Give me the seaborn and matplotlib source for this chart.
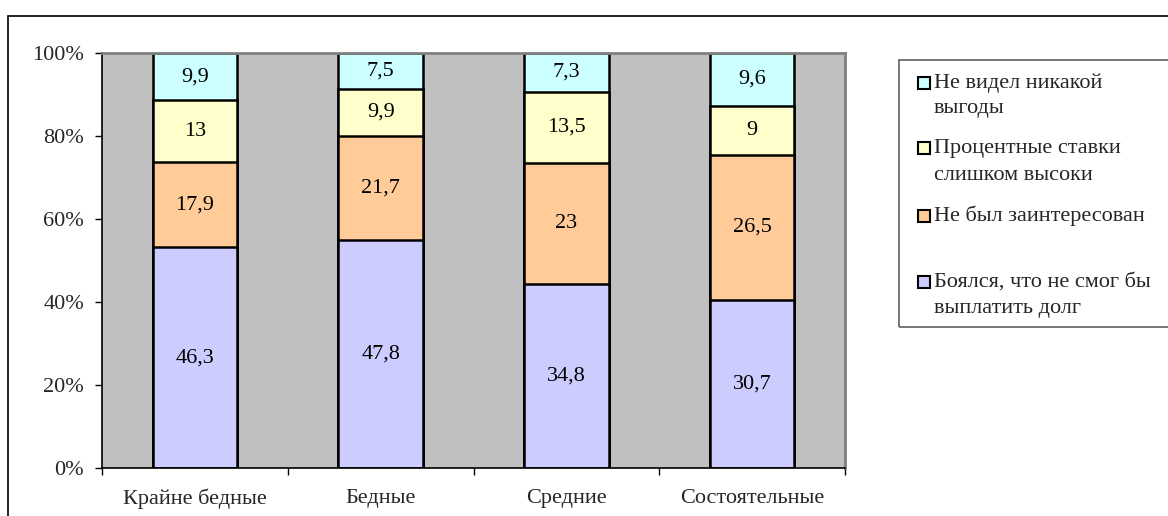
import numpy as np
import pandas as pd
import matplotlib
matplotlib.use("Agg")
import matplotlib.pyplot as plt
from matplotlib.patches import Rectangle
from matplotlib.ticker import FixedLocator
import seaborn as sns

categories = ["Крайне бедные", "Бедные", "Средние", "Состоятельные"]
series_names = ["Боялся, что не смог бы\nвыплатить долг", "Не был заинтересован",
                "Процентные ставки\nслишком высоки", "Не видел никакой\nвыгоды"]
feared = [46.3, 47.8, 34.8, 30.7]
not_interested = [17.9, 21.7, 23.0, 26.5]
rates_high = [13.0, 9.9, 13.5, 9.0]
no_benefit = [9.9, 7.5, 7.3, 9.6]
value_labels = [["46,3", "47,8", "34,8", "30,7"],
                ["17,9", "21,7", "23", "26,5"],
                ["13", "9,9", "13,5", "9"],
                ["9,9", "7,5", "7,3", "9,6"]]
colors = ["#CCCCFF", "#FFCC99", "#FFFFCC", "#CCFFFF"]
y_ticks = [0, 20, 40, 60, 80, 100]

sns.set_style("white")
plt.rcParams["font.family"] = ["Liberation Serif", "DejaVu Serif"]
FS = 16

W, H = 1168, 516
fig = plt.figure(figsize=(W / 100, H / 100), dpi=100)
ax = fig.add_axes([102 / W, (H - 468) / H, (845 - 102) / W, (468 - 53) / H])
ax.set_facecolor("#C0C0C0")

vals = np.array([feared, not_interested, rates_high, no_benefit])
pct = vals / vals.sum(axis=0) * 100
cum = np.cumsum(pct, axis=0)

# draw from top layer down so lower layers overlay
for i in range(3, -1, -1):
    df = pd.DataFrame({"cat": categories, "cum": cum[i]})
    sns.barplot(data=df, x="cat", y="cum", order=categories, color=colors[i],
                saturation=1, edgecolor="black", linewidth=1.8, width=0.456, ax=ax)

for i in range(4):
    bottoms = cum[i] - pct[i]
    for j in range(4):
        ax.text(j, bottoms[j] + pct[i][j] / 2, value_labels[i][j], ha="center",
                va="center", fontsize=FS, color="black")

ax.set_ylim(0, 100)
ax.set_xlim(-0.5, 3.5)
ax.set_yticks(y_ticks)
ax.set_yticklabels([f"{t}%" for t in y_ticks], fontsize=FS)
ax.set_xlabel("")
ax.set_ylabel("")
ax.tick_params(axis="x", which="major", length=0, pad=15, labelsize=FS)
ax.xaxis.set_minor_locator(FixedLocator([-0.5, 0.5, 1.5, 2.5, 3.5]))
ax.tick_params(axis="x", which="minor", length=5, width=1, color="black", direction="out", bottom=True)
ax.tick_params(axis="y", length=5, width=1, color="black", direction="out", left=True, pad=8)
for s in ["left", "bottom"]:
    ax.spines[s].set_color("black")
    ax.spines[s].set_linewidth(1.2)
for s in ["top", "right"]:
    ax.spines[s].set_color("#808080")
    ax.spines[s].set_linewidth(2)

# outer chart border
fig.add_artist(Rectangle((8 / W, -0.2), 1.5, (H - 16) / H + 0.2, transform=fig.transFigure,
                         fill=False, edgecolor="black", linewidth=1.2))

# legend box
lx0, ly0, ly1 = 899, 60, 327
fig.add_artist(Rectangle((lx0 / W, (H - ly1) / H), 0.5, (ly1 - ly0) / H, transform=fig.transFigure,
                         fill=False, edgecolor="#606060", linewidth=1.2))
leg_lines = [[83, 108], [148, 175], [216], [282, 308]]
leg_names = [series_names[3], series_names[2], series_names[1], series_names[0]]
leg_cols = [colors[3], colors[2], colors[1], colors[0]]
for ys, name, c in zip(leg_lines, leg_names, leg_cols):
    y = ys[0]
    fig.add_artist(Rectangle((918 / W, (H - y - 6) / H), 12 / W, 12 / H, transform=fig.transFigure,
                             facecolor=c, edgecolor="black", linewidth=1.5))
    for yy, line in zip(ys, name.split("\n")):
        fig.text(934 / W, (H - yy) / H, line, ha="left", va="center", fontsize=FS)

fig.savefig("out.png", dpi=100)
